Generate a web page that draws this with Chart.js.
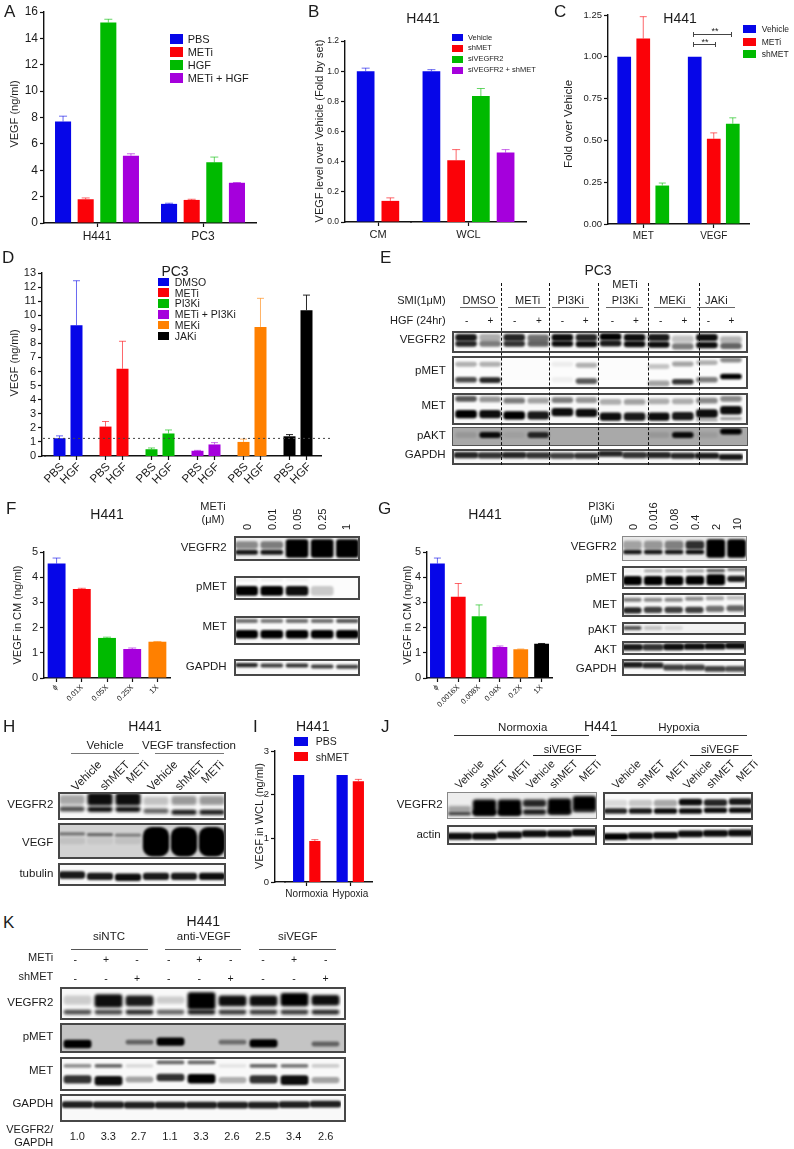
<!DOCTYPE html>
<html><head><meta charset="utf-8">
<style>
html,body{margin:0;padding:0;background:#fff;width:794px;height:1149px;overflow:hidden}
#page{position:relative;width:794px;height:1149px;overflow:hidden;font-family:"Liberation Sans",Arial,sans-serif;color:#1c1c1c}
canvas{position:absolute;display:block}
.t{position:absolute;white-space:nowrap;line-height:1;z-index:5}
.l{position:absolute;z-index:4}
.blot{position:absolute;overflow:hidden;z-index:2}
.blot .b{position:absolute;left:0;top:0;right:0;bottom:0;box-sizing:border-box}
</style>
<script src="https://cdn.jsdelivr.net/npm/chart.js@4"></script>
</head><body><div id="page"></div>
<script>
/* ---------- DATA: bar panels ---------- */
const A_groups=['H441','PC3'];
const A_legend=['PBS','METi','HGF','METi + HGF'];
const A_PBS=[7.7,1.45],A_PBS_top=[8.1,1.5];
const A_METi=[1.8,1.75],A_METi_top=[1.9,1.8];
const A_HGF=[15.2,4.6],A_HGF_top=[15.45,5.0];
const A_both=[5.1,3.05],A_both_top=[5.25,3.07];

const B_legend=['Vehicle','shMET','siVEGFR2','siVEGFR2 + shMET'];
const B_CM_values=[1.0,0.14],B_CM_tops=[1.02,0.16];
const B_WCL_values=[1.0,0.41,0.835,0.46],B_WCL_tops=[1.01,0.48,0.885,0.48];

const C_groups=['MET','VEGF'];
const C_legend=['Vehicle','METi','shMET'];
const C_Vehicle=[1.0,1.0];
const C_METi=[1.11,0.51],C_METi_top=[1.24,0.545];
const C_shMET=[0.23,0.6],C_shMET_top=[0.245,0.635];

const D_groups=['DMSO','METi','PI3Ki','METi + PI3Ki','MEKi','JAKi'];
const D_PBS=[1.26,2.09,0.48,0.37,1.0,1.4],D_PBS_top=[1.43,2.45,0.57,0.4,1.2,1.52];
const D_HGF=[9.29,6.2,1.6,0.82,9.17,10.36],D_HGF_top=[12.45,8.15,1.85,0.95,11.2,11.43];
const D_baseline=1.25;

const F_doses=['ɸ','0.01X','0.05X','0.25X','1X'];
const F_values=[4.54,3.53,1.59,1.15,1.44],F_tops=[4.76,3.56,1.62,1.19,1.45];
const G_doses=['ɸ','0.0016X','0.008X','0.04X','0.2X','1X'];
const G_values=[4.54,3.22,2.45,1.23,1.14,1.36],G_tops=[4.76,3.75,2.9,1.27,1.15,1.37];

const I_groups=['Normoxia','Hypoxia'];
const I_legend=['PBS','shMET'];
const I_PBS=[2.45,2.45];
const I_shMET=[0.94,2.31],I_shMET_top=[0.97,2.35];

/* ---------- DATA: blot lanes and band intensities (y/h on a 0-100 membrane scale, d = darkness) ---------- */
const E_lanes=['DMSO-','DMSO+','METi-','METi+','PI3Ki-','PI3Ki+','Both-','Both+','MEKi-','MEKi+','JAKi-','JAKi+'];
const E_VEGFR2=[{y:[30,30,30,32,30,30,26,30,30,36,30,40],h:32,d:[.9,.3,.85,.55,.95,.85,1,.95,.9,.22,.95,.28]},
                {y:[58,58,58,58,58,60,56,60,62,70,64,68],h:28,d:[.85,.5,.8,.6,.95,.95,.9,.95,.95,.5,.95,.6]}];
const E_pMET=[{y:[25,25,0,0,25,28,0,0,32,24,20,12],h:15,d:[.3,.3,0,0,.06,.3,0,0,.22,.35,.3,.45]},
              {y:[72,73,0,0,72,76,0,0,83,78,72,62],h:17,d:[.7,.85,0,0,.05,.65,0,0,.35,.8,.5,1]}];
const E_MET=[{y:[18,20,24,24,22,22,28,28,26,26,24,18],h:18,d:[.65,.4,.5,.35,.5,.4,.3,.35,.3,.3,.45,.45]},
             {y:[66,66,70,70,60,62,74,74,74,72,64,54],h:26,d:[1,.95,1,.9,.95,.95,.95,.9,.95,.9,.95,.95]},
             {y:[86,86,86,86,86,86,86,86,86,86,84,80],h:8,d:[0,0,0,0,0,0,0,0,0,0,.35,.4]}];
const E_pAKT=[{y:[42,42,42,42,42,42,42,42,42,42,42,24],h:32,d:[.1,.95,.06,.8,0,0,0,0,.1,.95,.08,1]}];
const E_GAPDH=[{y:[38,40,38,40,42,42,30,38,38,42,42,50],h:34,d:[.85,.8,.85,.8,.75,.8,.85,.8,.85,.85,.9,.9]}];

const F_lanes=['0','0.01','0.05','0.25','1'];
const F_VEGFR2=[{y:36,h:30,d:[.42,.48,0,0,0]},{y:65,h:20,d:[.9,.9,0,0,0]},{y:50,h:74,d:[0,0,1,1,1]}];
const F_pMET=[{y:17,h:8,d:[.07,.07,.05,0,0]},{y:62,h:40,d:[1,1,.95,.2,0]}];
const F_MET=[{y:17,h:14,d:[.55,.5,.55,.55,.65]},{y:63,h:30,d:[1,1,1,1,1]}];
const F_GAPDH=[{y:[36,38,38,44,46],h:24,d:[.85,.75,.8,.75,.75]}];

const G_lanes=['0','0.016','0.08','0.4','2','10'];
const G_VEGFR2=[{y:36,h:34,d:[.3,.35,.45,.8,0,0]},{y:64,h:18,d:[.9,.9,.9,.95,0,0]},{y:50,h:74,d:[0,0,0,0,1,1]}];
const G_pMET=[{y:[21,21,21,21,20,16],h:14,d:[.05,.3,.3,.35,.65,.5]},{y:[64,64,64,62,60,56],h:[40,40,40,40,48,28],d:[1,1,1,1,1,.9]}];
const G_MET=[{y:[28,28,28,24,22,20],h:16,d:[.5,.45,.45,.45,.35,.25]},{y:[72,70,70,70,66,64],h:26,d:[.85,.75,.75,.75,.55,.6]}];
const G_pAKT=[{y:46,h:32,d:[.65,.2,.1,0,0,0]}];
const G_AKT=[{y:[44,44,42,40,38,34],h:42,d:[.9,.8,.95,.95,.95,.95]}];
const G_GAPDH=[{y:[34,38,50,50,58,58],h:30,d:[.9,.85,.75,.75,.75,.7]}];

const H_lanes=['Vehicle','shMET','METi','Vehicle T','shMET T','METi T'];
const H_VEGFR2=[{y:[28,26,26,32,30,30],h:[34,44,44,30,32,32],d:[.33,.95,.95,.22,.38,.38]},{y:[61,62,62,68,72,72],h:18,d:[.7,.95,.95,.6,.9,.9]}];
const H_VEGF=[{y:[30,32,34,0,0,0],h:9,d:[.45,.5,.4,0,0,0]},{y:[50,50,50,52,52,52],h:[18,18,18,82,82,82],d:[.08,.05,.08,1,1,1]}];
const H_tubulin=[{y:[52,58,62,58,58,58],h:32,d:[.9,.9,.95,.9,.9,.95]}];

const I_J_lanes=['Vehicle','shMET','METi','si Vehicle','si shMET','si METi'];
const J_N_VEGFR2=[{y:[62,58,58,42,52,42],h:[20,60,60,28,56,54],d:[.32,1,1,.85,1,1]},{y:[80,76,76,74,75,68],h:[12,16,16,20,18,14],d:[.85,.95,.95,.9,.9,.7]}];
const J_H_VEGFR2=[{y:[40,40,40,36,38,34],h:24,d:[.12,.2,.32,.95,.85,.9]},{y:[68,68,68,68,65,65],h:20,d:[.85,.9,.95,.95,.95,.95]}];
const J_N_actin=[{y:[56,56,50,44,44,38],h:32,d:[.95,.95,.95,.95,.95,.95]}];
const J_H_actin=[{y:[58,54,52,44,42,40],h:34,d:[1,.95,.95,.95,.95,.95]}];

const K_lanes=['1','2','3','4','5','6','7','8','9'];
const K_VEGFR2=[{y:[40,42,42,40,42,42,42,38,40],h:[28,40,32,22,52,32,32,40,32],d:[.18,.95,.9,.18,1,.95,.95,1,.95]},{y:76,h:14,d:[.7,.72,.85,.6,.9,.78,.78,.78,.85]}];
const K_pMET=[{y:[70,70,64,62,70,64,68,70,70],h:[28,28,16,28,28,16,28,28,16],d:[1,0,.5,1,0,.45,1,0,.5]}];
const K_MET=[{y:[26,26,26,16,16,26,26,26,26],h:11,d:[.42,.58,.12,.58,.58,.08,.58,.52,.18]},{y:[66,70,66,60,64,68,66,68,68],h:[24,28,18,22,28,18,24,28,18],d:[.8,.95,.35,.8,1,.3,.8,.95,.35]}];
const K_GAPDH=[{y:[38,39,40,40,40,40,40,38,36],h:22,d:[.88,.88,.88,.88,.88,.88,.88,.88,.88]}];

const K_ratio=['1.0','3.3','2.7','1.1','3.3','2.6','2.5','3.4','2.6'];
const K_METi_row=['-','+','-','-','+','-','-','+','-'];
const K_shMET_row=['-','-','+','-','-','+','-','-','+'];
const E_HGF_row=['-','+','-','+','-','+','-','+','-','+','-','+'];

/* ---------- helpers ---------- */
const page=document.getElementById('page');
const BLUE='#0606e8',RED='#fb0208',GREEN='#00ba00',PURPLE='#a500dc',ORANGE='#ff8000',BLACK='#000000';
const INK='#111';
Chart.defaults.font.family='"Liberation Sans",Arial,sans-serif';
Chart.defaults.color='#1c1c1c';
Chart.defaults.animation=false;

function t(text,x,y,o={}){
  const d=document.createElement('div');d.className='t';d.textContent=text;
  const size=o.size||11;d.style.fontSize=size+'px';d.style.left=x+'px';d.style.top=y+'px';
  const a=o.anchor||'c',r=o.rot||0;
  if(a==='c'){d.style.transform=`translate(-50%,-50%) rotate(${r}deg)`;}
  else if(a==='r'){d.style.transformOrigin='100% 50%';d.style.transform=`translate(-100%,-50%) rotate(${r}deg)`;}
  else {d.style.transformOrigin='0 50%';d.style.transform=`translateY(-50%) rotate(${r}deg)`;}
  if(o.color)d.style.color=o.color;
  page.appendChild(d);
}
function line(x0,y0,x1,y1,color='#333',th=1,dash){
  const d=document.createElement('div');d.className='l';
  d.style.left=x0+'px';d.style.top=y0+'px';
  if(y0===y1){d.style.width=(x1-x0)+'px';d.style.height='0';d.style.borderTop=`${th}px ${dash||'solid'} ${color}`;}
  else{d.style.height=(y1-y0)+'px';d.style.width='0';d.style.borderLeft=`${th}px ${dash||'solid'} ${color}`;}
  page.appendChild(d);
}
function legend(labels,colors,swX,swW,swH,txtX,rows,size){
  labels.forEach((lab,i)=>{
    const s=document.createElement('div');s.className='l';
    s.style.cssText+=`left:${swX}px;top:${rows[i]-swH/2}px;width:${swW}px;height:${swH}px;background:${colors[i]}`;
    page.appendChild(s);
    t(lab,txtX,rows[i],{anchor:'l',size});
  });
}
const errPlugin={id:'errs',afterDatasetsDraw(ch,_,opt){
  const ctx=ch.ctx,y=ch.scales.y;
  ch.data.datasets.forEach((ds,di)=>{
    if(!ds.tops)return;
    const m=ch.getDatasetMeta(di);
    m.data.forEach((el,i)=>{
      const top=ds.tops[i];if(top==null)return;
      const col=Array.isArray(ds.backgroundColor)?ds.backgroundColor[i]:ds.backgroundColor;
      const py=y.getPixelForValue(top),cap=(opt.cap||7)/2;
      ctx.save();ctx.strokeStyle=col;ctx.globalAlpha=col===BLACK?.85:.6;ctx.lineWidth=1;
      ctx.beginPath();ctx.moveTo(el.x,el.y);ctx.lineTo(el.x,py);ctx.moveTo(el.x-cap,py);ctx.lineTo(el.x+cap,py);ctx.stroke();ctx.restore();
    });
  });
}};
function bars(o){
  const L=36,R=o.R||24,T=10,B=44;
  const left=Math.round(o.left),right=Math.round(o.right),top=Math.round(o.top),bottom=Math.round(o.bottom);
  const c=document.createElement('canvas');
  const W=right-left+L+R,H=bottom-top+T+B;
  c.width=W;c.height=H;c.style.left=(left-L)+'px';c.style.top=(top-T)+'px';c.style.width=W+'px';c.style.height=H+'px';
  c.style.zIndex=o.z||1;
  page.appendChild(c);
  const showY=o.showY!==false;
  const xTicks=o.xTicks||{};
  return new Chart(c,{type:'bar',
    data:{labels:o.labels,datasets:o.series.map(s=>({label:s.label,data:s.data,tops:s.tops,backgroundColor:s.color,borderWidth:0,
      categoryPercentage:o.cat,barPercentage:o.bar}))},
    plugins:[errPlugin].concat(o.plugins||[]),
    options:{responsive:false,maintainAspectRatio:false,animation:false,devicePixelRatio:1,events:[],
      layout:{padding:{left:0,right:R,top:T,bottom:0}},
      plugins:{legend:{display:false},tooltip:{enabled:false},title:{display:false},errs:{cap:o.cap}},
      scales:{
        x:{type:'category',offset:true,
          border:{display:true,color:INK,width:1.4},
          grid:{display:true,drawOnChartArea:false,drawTicks:o.xTickMarks!==false,tickLength:4,tickColor:INK,tickWidth:1.2,offset:false},
          ticks:{display:o.xLabels!==false,autoSkip:false,padding:xTicks.padding??2,maxRotation:xTicks.rot||0,minRotation:xTicks.rot||0,font:{size:o.xSize||11},color:'#1c1c1c'},
          afterFit(s){s.height=B;}},
        y:{display:showY,min:0,max:o.yMax,
          border:{display:true,color:INK,width:1.4},
          grid:{display:true,drawOnChartArea:false,drawTicks:true,tickLength:4,tickColor:INK,tickWidth:1.2},
          ticks:{stepSize:o.step,padding:2,autoSkip:false,font:{size:o.ySize||11},color:'#1c1c1c',
            callback:v=>o.dec!=null?Number(v).toFixed(o.dec):v},
          afterFit(s){s.width=L;}}
      }}});
}
const blurPlugin={id:'blur',
  beforeDatasetsDraw(ch,_,opt){ch.ctx.save();ch.ctx.filter=`blur(${opt.px}px)`;},
  afterDatasetsDraw(ch){ch.ctx.restore();}};
function blot(lanes,rows,x0,y0,x1,y1,o={}){
  const X=Math.round(x0),Y=Math.round(y0),W=Math.round(x1)-X,H=Math.round(y1)-Y;
  const w=document.createElement('div');w.className='blot';
  w.style.cssText+=`left:${X}px;top:${Y}px;width:${W}px;height:${H}px;background:${o.bg||'#f9f9f9'}`;
  const c=document.createElement('canvas');c.width=W;c.height=H;c.style.width=W+'px';c.style.height=H+'px';c.style.left='0';c.style.top='0';
  w.appendChild(c);
  const b=document.createElement('div');b.className='b';b.style.border=o.border||'2px solid #474747';w.appendChild(b);
  page.appendChild(w);
  const val=(v,i)=>Array.isArray(v)?v[i]:v;
  new Chart(c,{type:'bar',plugins:[blurPlugin],
    data:{labels:lanes,datasets:rows.map((r,ri)=>({label:'band'+ri,grouped:false,
      data:lanes.map((_,i)=>{const yy=val(r.y,i),hh=val(r.h,i);return [yy-hh/2,yy+hh/2];}),
      backgroundColor:lanes.map((_,i)=>`rgba(0,0,0,${val(r.d,i)})`),
      borderWidth:0,borderSkipped:false,borderRadius:o.radius??3,
      categoryPercentage:1,barPercentage:o.bar||.9}))},
    options:{responsive:false,maintainAspectRatio:false,animation:false,devicePixelRatio:1,events:[],
      layout:{padding:{left:o.pl||0,right:o.pr||0,top:0,bottom:0}},
      plugins:{legend:{display:false},tooltip:{enabled:false},blur:{px:o.blur??1.3}},
      scales:{x:{display:false,type:'category',offset:true},y:{display:false,min:0,max:100,reverse:true}}}});
}

/* ---------- panel letters ---------- */
[['A',4,11],['B',308,11],['C',554,11],['D',2,257],['E',380,257],['F',6,508],['G',378,508],['H',3,726],['I',253,726],['J',381,726],['K',3,922]]
 .forEach(p=>t(p[0],p[1],p[2],{anchor:'l',size:17}));

/* ---------- A ---------- */
bars({left:44.3,right:256,top:11.7,bottom:222.5,labels:A_groups,yMax:16,step:2,cat:.854,bar:.71,ySize:12,xSize:12,cap:8,
  series:[{label:'PBS',data:A_PBS,tops:A_PBS_top,color:BLUE},{label:'METi',data:A_METi,tops:A_METi_top,color:RED},
          {label:'HGF',data:A_HGF,tops:A_HGF_top,color:GREEN},{label:'METi + HGF',data:A_both,tops:A_both_top,color:PURPLE}]});
legend(A_legend,[BLUE,RED,GREEN,PURPLE],169.5,13,10,187.7,[38.7,52.3,65.3,78.3],11);
t('VEGF (ng/ml)',13.5,114,{rot:-90,size:11});

/* ---------- B ---------- */
bars({left:345,right:411,top:41,bottom:222.3,labels:['CM'],yMax:1.2,step:.2,dec:1,cat:.748,bar:.717,ySize:8.5,xSize:11,cap:8,R:4,
  series:[{label:'Vehicle',data:[B_CM_values[0]],tops:[B_CM_tops[0]],color:BLUE},{label:'shMET',data:[B_CM_values[1]],tops:[B_CM_tops[1]],color:RED}]});
bars({left:411,right:526,top:41,bottom:222.3,labels:['WCL'],yMax:1.2,step:.2,showY:false,cat:.86,bar:.717,xSize:11,cap:8,
  series:B_WCL_values.map((v,i)=>({label:B_legend[i],data:[v],tops:[B_WCL_tops[i]],color:[BLUE,RED,GREEN,PURPLE][i]}))});
legend(B_legend,[BLUE,RED,GREEN,PURPLE],452.3,11,7,468,[37.7,48,59,70.3],7.5);
t('H441',423,17.7,{size:14});
t('VEGF level over Vehicle (Fold by set)',319,131,{rot:-90,size:11});

/* ---------- C ---------- */
bars({left:608.3,right:749,top:14.7,bottom:224.3,labels:C_groups,yMax:1.25,step:.25,dec:2,cat:.81,bar:.72,ySize:9.5,xSize:10,cap:7,
  series:[{label:'Vehicle',data:C_Vehicle,color:BLUE},{label:'METi',data:C_METi,tops:C_METi_top,color:RED},{label:'shMET',data:C_shMET,tops:C_shMET_top,color:GREEN}]});
legend(C_legend,[BLUE,RED,GREEN],743,13,8,761.7,[29.3,42,54.3],8.5);
t('H441',680,17.7,{size:14});
t('Fold over Vehicle',569,124,{rot:-90,size:11.5});
line(693,34,731,34,'#444',1);line(693,31.5,693,36.5,'#444',1);line(731,31.5,731,36.5,'#444',1);
line(693,44,715,44,'#444',1);line(693,41.5,693,46.5,'#444',1);line(715,41.5,715,46.5,'#444',1);
t('**',715,31,{size:9});t('**',705,41.5,{size:9});

/* ---------- D ---------- */
const dTicks={id:'dTicks',afterDraw(ch){
  const ctx=ch.ctx,b=ch.chartArea.bottom,y=ch.scales.y;
  ctx.save();
  ctx.strokeStyle='#444';ctx.lineWidth=1;ctx.setLineDash([2,3]);
  const py=y.getPixelForValue(D_baseline);ctx.beginPath();ctx.moveTo(ch.chartArea.left-2,py);ctx.lineTo(ch.chartArea.right+9,py);ctx.stroke();
  ctx.setLineDash([]);
  ctx.fillStyle='#1c1c1c';ctx.font='11.5px "Liberation Sans"';ctx.textAlign='right';ctx.textBaseline='middle';
  ch.data.datasets.forEach((ds,di)=>{
    ch.getDatasetMeta(di).data.forEach(el=>{
      ctx.strokeStyle=INK;ctx.lineWidth=1.2;ctx.beginPath();ctx.moveTo(el.x,b);ctx.lineTo(el.x,b+4);ctx.stroke();
      ctx.save();ctx.translate(el.x+3,b+9);ctx.rotate(-Math.PI/4);ctx.fillText(ds.label,0,0);ctx.restore();
    });
  });
  ctx.restore();
}};
const dColors=[BLUE,RED,GREEN,PURPLE,ORANGE,BLACK];
bars({left:42,right:45,top:273.3,bottom:455.7,labels:[''],yMax:13,step:1,cat:1,bar:1,ySize:11,series:[],xLabels:false,xTickMarks:false,R:2});
bars({left:45,right:321,top:273.3,bottom:455.7,labels:D_groups,yMax:13,step:1,showY:false,cat:.739,bar:.706,xLabels:false,xTickMarks:false,cap:7,plugins:[dTicks],
  series:[{label:'PBS',data:D_PBS,tops:D_PBS_top,color:dColors},{label:'HGF',data:D_HGF,tops:D_HGF_top,color:dColors}]});
legend(D_groups,dColors,158.3,11,8.5,174.7,[282,292.7,303.3,314.3,325,336],10.5);
t('PC3',175,271,{size:14});
t('VEGF (ng/ml)',14,363,{rot:-90,size:11});

/* ---------- E ---------- */
t('PC3',598,270,{size:14});
t('METi',625,283.7,{size:11});
t('SMI(1μM)',445.7,300,{anchor:'r',size:11});
t('HGF (24hr)',445.7,320.3,{anchor:'r',size:11});
[['DMSO',479,460.3,498.3],['METi',527.7,508.3,545.7],['PI3Ki',570.7,551.7,589.3],['PI3Ki',625,606,643.3],['MEKi',672.3,654,691.3],['JAKi',716.3,697.3,734.7]]
 .forEach(g=>{t(g[0],g[1],299.5,{size:11});line(g[2],307,g[3],307,'#666',1);});
[466.7,490.3,514.7,539,562.3,585.7,612.3,636,660.7,684.3,708.3,731.3].forEach((x,i)=>t(E_HGF_row[i],x,321,{size:10}));
blot(E_lanes,E_VEGFR2,451.7,331,747.7,353.3,{pl:2,pr:5});
blot(E_lanes,E_pMET,451.7,356,747.7,389,{pl:2,pr:5,bg:'#fcfcfc'});
blot(E_lanes,E_MET,451.7,392.7,747.7,425,{pl:2,pr:5});
blot(E_lanes,E_pAKT,451.7,427,747.7,446,{pl:2,pr:5,bg:'#a9a9a9',border:'1px solid #555'});
blot(E_lanes,E_GAPDH,451.7,449.3,747.7,465,{pl:2,pr:5,bar:1});
[500.7,549.3,598.3,648.3,699].forEach(x=>line(x,283,x,465,'#111',1,'dashed'));
[['VEGFR2',340],['pMET',371],['MET',406],['pAKT',435.7],['GAPDH',455]].forEach(l=>t(l[0],445.7,l[1],{anchor:'r',size:11.5}));

/* ---------- F ---------- */
bars({left:44.3,right:170,top:552.3,bottom:678.3,labels:F_doses,yMax:5,step:1,cat:1,bar:.71,ySize:11,xSize:7.5,xTicks:{rot:45,padding:1},cap:8,
  series:[{label:'VEGF in CM',data:F_values,tops:F_tops,color:[BLUE,RED,GREEN,PURPLE,ORANGE]}]});
t('H441',107,514,{size:14});
t('VEGF in CM (ng/ml)',17,615,{rot:-90,size:11});
t('METi',213,505.7,{size:11});t('(μM)',213,519.3,{size:11});
F_lanes.forEach((lab,i)=>t(lab,[247,271.7,296.7,321.7,346][i],530,{size:11,rot:-90,anchor:'l'}));
blot(F_lanes,F_VEGFR2,234.3,536,360,561,{bg:'#eeeeee'});
blot(F_lanes,F_pMET,234.3,576,360,600,{bg:'#fcfcfc'});
blot(F_lanes,F_MET,234.3,615.7,360,645);
blot(F_lanes,F_GAPDH,234.3,659.3,360,676);
[['VEGFR2',547.7],['pMET',587.3],['MET',626.7],['GAPDH',666.7]].forEach(l=>t(l[0],226.7,l[1],{anchor:'r',size:11.5}));

/* ---------- G ---------- */
bars({left:426.7,right:552,top:552.3,bottom:678.3,labels:G_doses,yMax:5,step:1,cat:1,bar:.71,ySize:11,xSize:7.5,xTicks:{rot:45,padding:1},cap:7,
  series:[{label:'VEGF in CM',data:G_values,tops:G_tops,color:[BLUE,RED,GREEN,PURPLE,ORANGE,BLACK]}]});
t('H441',485,514,{size:14});
t('VEGF in CM (ng/ml)',407,615,{rot:-90,size:11});
t('PI3Ki',601.3,505.7,{size:11});t('(μM)',601.3,519.3,{size:11});
G_lanes.forEach((lab,i)=>t(lab,[632.7,653.3,673.7,695,715.7,736.7][i],530,{size:11,rot:-90,anchor:'l'}));
blot(G_lanes,G_VEGFR2,622.3,536,747.3,560.7,{bg:'#e9e9e9',border:'1px solid #888'});
blot(G_lanes,G_pMET,622.3,565.7,747.3,589.3);
blot(G_lanes,G_MET,622.3,593.3,746,617);
blot(G_lanes,G_pAKT,622.3,621.7,746,635.3,{bg:'#f2f2f2'});
blot(G_lanes,G_AKT,622.3,641,746,654.7,{bar:1});
blot(G_lanes,G_GAPDH,622.3,659.3,746,676.3,{bar:1});
[['VEGFR2',547],['pMET',578],['MET',605],['pAKT',630.3],['AKT',650.3],['GAPDH',669.3]].forEach(l=>t(l[0],616.7,l[1],{anchor:'r',size:11.5}));

/* ---------- H ---------- */
t('H441',145,726,{size:14});
t('Vehicle',105,745.7,{size:11.5});t('VEGF transfection',189,745.7,{size:11.5});
line(71,752.5,138.7,752.5,'#777',1.5);line(155,752.5,224.3,752.5,'#777',1.5);
['Vehicle','shMET','METi','Vehicle','shMET','METi'].forEach((lab,i)=>t(lab,[100,128,146.7,176,202.7,221.7][i],763,{anchor:'r',rot:-45,size:11.5}));
blot(H_lanes,H_VEGFR2,58.3,792.3,226,820,{blur:1.4});
blot(H_lanes,H_VEGF,58.3,823.3,226,859.3,{bg:'#d2d2d2',radius:9,bar:.94});
blot(H_lanes,H_tubulin,58.3,862.7,226,885.7,{bar:.94});
[['VEGFR2',805],['VEGF',843.3],['tubulin',874.3]].forEach(l=>t(l[0],53.3,l[1],{anchor:'r',size:11.5}));

/* ---------- I ---------- */
bars({left:275.3,right:284.6,top:750.7,bottom:881.7,labels:[''],yMax:3,step:1,cat:1,bar:1,ySize:9.5,series:[],xLabels:false,xTickMarks:false,R:2});
bars({left:285,right:372,top:750.7,bottom:881.7,labels:I_groups,yMax:3,step:1,showY:false,cat:.746,bar:.69,xSize:10,cap:7,
  series:[{label:'PBS',data:I_PBS,color:BLUE},{label:'shMET',data:I_shMET,tops:I_shMET_top,color:RED}]});
legend(I_legend,[BLUE,RED],293.7,14.6,9,315.7,[741,756.7],10.5);
t('H441',312.7,725.7,{size:14});
t('VEGF in WCL (ng/ml)',259.3,815.5,{rot:-90,size:11});

/* ---------- J ---------- */
t('H441',600.7,726,{size:14});
t('Normoxia',522.7,728.3,{size:11.5});line(454.3,735.3,589,735.3,'#333',1);
t('Hypoxia',679,728.3,{size:11.5});line(610.7,735.3,747.3,735.3,'#333',1);
t('siVEGF',562.7,748.7,{size:11});line(533.3,755.3,595.7,755.3,'#222',1);
t('siVEGF',720,748.7,{size:11});line(690,755.3,751.7,755.3,'#222',1);
['Vehicle','shMET','METi','Vehicle','shMET','METi'].forEach((lab,i)=>{
  t(lab,[481.7,505.7,528.3,552.7,575.7,599][i],762,{anchor:'r',rot:-45,size:11});
  t(lab,[639,662.7,686,710,733.3,756][i],762,{anchor:'r',rot:-45,size:11});
});
blot(I_J_lanes,J_N_VEGFR2,446.7,791.7,596.7,819.3,{bg:'#ededed',border:'1px solid #888',blur:1.4,bar:.94});
blot(I_J_lanes,J_H_VEGFR2,602.7,792.3,752.7,820,{bar:.94});
blot(I_J_lanes,J_N_actin,446.7,825,596.7,844.7,{bar:1});
blot(I_J_lanes,J_H_actin,602.7,825,752.7,844.7,{bar:1.02});
t('VEGFR2',442.7,805,{anchor:'r',size:11.5});t('actin',440.7,834.7,{anchor:'r',size:11.5});

/* ---------- K ---------- */
t('H441',203.3,921,{size:14});
[['siNTC',109,71,147.7],['anti-VEGF',203.7,164.7,241.3],['siVEGF',297.7,259.3,336]].forEach(g=>{t(g[0],g[1],936.7,{size:11.5});line(g[2],948.5,g[3],948.5,'#555',1);});
t('METi',53.3,957.3,{anchor:'r',size:11});t('shMET',53.3,975.7,{anchor:'r',size:11});
const kX=[75.3,106,137,168.7,199.3,230.7,263,294,325.7];
kX.forEach((x,i)=>{t(K_METi_row[i],x,959,{size:10.5});t(K_shMET_row[i],x,977.7,{size:10.5});});
blot(K_lanes,K_VEGFR2,60,987.3,345.7,1020,{pl:2,pr:5,blur:1.5});
blot(K_lanes,K_pMET,60,1023.3,345.7,1053.3,{pl:2,pr:5,bg:'#c4c4c4'});
blot(K_lanes,K_MET,60,1056.7,345.7,1090.7,{pl:2,pr:5});
blot(K_lanes,K_GAPDH,60,1094,345.7,1122.3,{pl:2,pr:5,bar:1});
[['VEGFR2',1003.3],['pMET',1037.3],['MET',1070.7],['GAPDH',1104]].forEach(l=>t(l[0],53.3,l[1],{anchor:'r',size:11.5}));
t('VEGFR2/',53.3,1128.7,{anchor:'r',size:11});t('GAPDH',53.3,1142,{anchor:'r',size:11});
[77.3,108.3,138.7,170,201,232,263,293.7,325.7].forEach((x,i)=>t(K_ratio[i],x,1135.7,{size:11}));
</script>
</body></html>
